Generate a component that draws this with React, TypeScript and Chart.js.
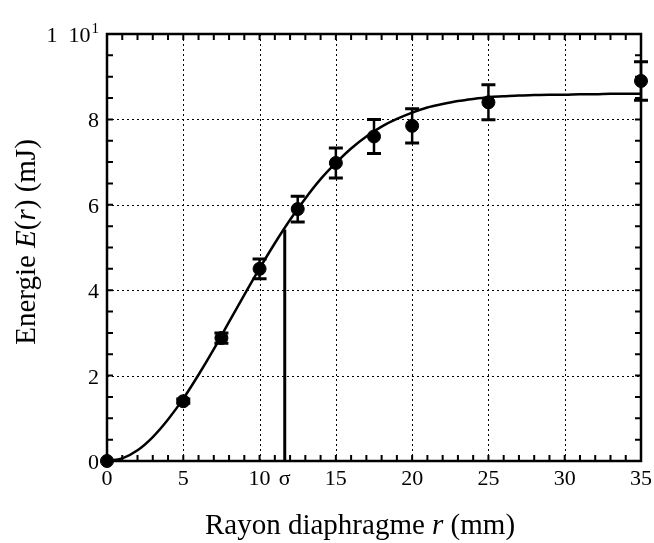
import React, { useEffect, useRef } from 'react';
import { Chart, registerables } from 'chart.js';

Chart.register(...registerables);

// Measured points (radius in mm, energy in mJ, error bar half-height)
const RADIUS = [0, 5, 7.5, 10, 12.5, 15, 17.5, 20, 25, 35];
const ENERGY = [0, 1.4, 2.88, 4.5, 5.9, 6.98, 7.6, 7.85, 8.4, 8.9];
const ERROR = [0, 0.05, 0.12, 0.23, 0.3, 0.35, 0.4, 0.4, 0.41, 0.45];

// Fitted curve
const FIT_R = [0, 1, 2, 3, 4, 5, 6, 7, 8, 9, 10, 11, 12, 13, 14, 15, 16, 17, 18, 19, 20, 21, 22, 23, 24, 25, 26, 27, 28, 29, 30, 31, 32, 33, 34, 35];
const FIT_E = [0, 0.06, 0.25, 0.56, 0.97, 1.46, 2.02, 2.62, 3.26, 3.89, 4.51, 5.1, 5.65, 6.15, 6.6, 6.98, 7.32, 7.6, 7.83, 8.01, 8.16, 8.28, 8.36, 8.43, 8.48, 8.52, 8.54, 8.56, 8.57, 8.58, 8.58, 8.59, 8.59, 8.6, 8.6, 8.6];

// Sigma marker
const SIGMA = 11.65;
const SIGMA_E = 5.42;
const SIGMA_LABEL = 'σ';

// Axes
const X_MIN = 0;
const X_MAX = 35;
const Y_MIN = 0;
const Y_MAX = 10;
const X_TICKS = [0, 5, 10, 15, 20, 25, 30, 35];
const Y_TICKS = [0, 2, 4, 6, 8, 10];
const Y_TICK_LABELS = ['0', '2', '4', '6', '8', '1  10'];
const Y_TICK_EXPONENTS = ['', '', '', '', '', '1'];
const X_MINOR_STEP = 1;
const Y_MINOR_STEP = 0.5;

const X_TITLE = [
  { t: 'Rayon diaphragme ', i: false },
  { t: 'r', i: true },
  { t: ' (mm)', i: false },
];
const Y_TITLE = [
  { t: 'Energie ', i: false },
  { t: 'E', i: true },
  { t: '(', i: false },
  { t: 'r', i: true },
  { t: ') (mJ)', i: false },
];

const SERIF = "'Liberation Serif', 'Times New Roman', serif";
const TITLE_SIZE = 29;
const TICK_SIZE = 22;
const EXP_SIZE = 15;

function drawRich(ctx: CanvasRenderingContext2D, parts: { t: string; i: boolean }[], cx: number, baseY: number) {
  const fontOf = (i: boolean) => `${i ? 'italic ' : ''}${TITLE_SIZE}px ${SERIF}`;
  let total = 0;
  parts.forEach((p) => {
    ctx.font = fontOf(p.i);
    total += ctx.measureText(p.t).width;
  });
  let x = cx - total / 2;
  ctx.textAlign = 'left';
  ctx.textBaseline = 'alphabetic';
  parts.forEach((p) => {
    ctx.font = fontOf(p.i);
    ctx.fillText(p.t, x, baseY);
    x += ctx.measureText(p.t).width;
  });
}

const decorPlugin = {
  id: 'decor',
  beforeDatasetsDraw(chart: any) {
    const { ctx, chartArea: a, scales } = chart;
    const xs = scales.x;
    const ys = scales.y;
    ctx.save();
    // dotted grid
    ctx.strokeStyle = '#000';
    ctx.lineWidth = 1;
    ctx.setLineDash([2, 3]);
    X_TICKS.forEach((v) => {
      if (v <= X_MIN || v >= X_MAX) return;
      const px = Math.round(xs.getPixelForValue(v)) + 0.5;
      ctx.beginPath();
      ctx.moveTo(px, a.top);
      ctx.lineTo(px, a.bottom);
      ctx.stroke();
    });
    Y_TICKS.forEach((v) => {
      if (v <= Y_MIN || v >= Y_MAX) return;
      const py = Math.round(ys.getPixelForValue(v)) + 0.5;
      ctx.beginPath();
      ctx.moveTo(a.left, py);
      ctx.lineTo(a.right, py);
      ctx.stroke();
    });
    ctx.setLineDash([]);
    // frame
    ctx.lineWidth = 2.5;
    ctx.strokeRect(a.left, a.top, a.right - a.left, a.bottom - a.top);
    // inward ticks on all four sides
    ctx.lineWidth = 2;
    const tl = 6;
    for (let v = X_MIN; v <= X_MAX + 1e-9; v += X_MINOR_STEP) {
      const px = xs.getPixelForValue(v);
      ctx.beginPath();
      ctx.moveTo(px, a.bottom);
      ctx.lineTo(px, a.bottom - tl);
      ctx.moveTo(px, a.top);
      ctx.lineTo(px, a.top + tl);
      ctx.stroke();
    }
    for (let v = Y_MIN; v <= Y_MAX + 1e-9; v += Y_MINOR_STEP) {
      const py = ys.getPixelForValue(v);
      ctx.beginPath();
      ctx.moveTo(a.left, py);
      ctx.lineTo(a.left + tl, py);
      ctx.moveTo(a.right, py);
      ctx.lineTo(a.right - tl, py);
      ctx.stroke();
    }
    ctx.restore();
  },
  afterDatasetsDraw(chart: any) {
    const { ctx, chartArea: a, scales } = chart;
    const xs = scales.x;
    const ys = scales.y;
    ctx.save();
    // error bars
    ctx.strokeStyle = '#000';
    RADIUS.forEach((r, i) => {
      const e = ERROR[i];
      if (!e) return;
      const px = xs.getPixelForValue(r);
      const top = ys.getPixelForValue(ENERGY[i] + e);
      const bot = ys.getPixelForValue(ENERGY[i] - e);
      ctx.lineWidth = 2.5;
      ctx.beginPath();
      ctx.moveTo(px, top);
      ctx.lineTo(px, bot);
      ctx.stroke();
      ctx.lineWidth = 3;
      ctx.beginPath();
      ctx.moveTo(px - 7, top);
      ctx.lineTo(px + 7, top);
      ctx.moveTo(px - 7, bot);
      ctx.lineTo(px + 7, bot);
      ctx.stroke();
    });
    // x tick labels
    ctx.fillStyle = '#000';
    ctx.font = `${TICK_SIZE}px ${SERIF}`;
    ctx.textAlign = 'center';
    ctx.textBaseline = 'alphabetic';
    X_TICKS.forEach((v) => {
      ctx.fillText(String(v), xs.getPixelForValue(v), a.bottom + 24);
    });
    ctx.fillText(SIGMA_LABEL, xs.getPixelForValue(SIGMA), a.bottom + 24);
    // y tick labels (with optional superscript exponent)
    ctx.textAlign = 'right';
    ctx.textBaseline = 'alphabetic';
    Y_TICKS.forEach((v, i) => {
      const py = ys.getPixelForValue(v);
      const base = py + 8;
      const exp = Y_TICK_EXPONENTS[i];
      let right = a.left - 8;
      if (exp) {
        ctx.font = `${EXP_SIZE}px ${SERIF}`;
        ctx.fillText(exp, right, base - 9);
        right -= ctx.measureText(exp).width + 1;
      }
      ctx.font = `${TICK_SIZE}px ${SERIF}`;
      ctx.fillText(Y_TICK_LABELS[i], right, base);
    });
    // titles
    drawRich(ctx, X_TITLE, 360, 534);
    ctx.save();
    ctx.translate(35, 242);
    ctx.rotate(-Math.PI / 2);
    drawRich(ctx, Y_TITLE, 0, 0);
    ctx.restore();
    ctx.restore();
  },
};

export default function App() {
  const ref = useRef<HTMLCanvasElement | null>(null);
  useEffect(() => {
    if (!ref.current) return;
    const chart = new Chart(ref.current, {
      type: 'scatter',
      data: {
        datasets: [
          {
            label: 'fit',
            data: FIT_R.map((r, i) => ({ x: r, y: FIT_E[i] })),
            showLine: true,
            borderColor: '#000',
            borderWidth: 2.5,
            pointRadius: 0,
            cubicInterpolationMode: 'monotone',
            clip: false,
          } as any,
          {
            label: 'sigma',
            data: [
              { x: SIGMA, y: 0 },
              { x: SIGMA, y: SIGMA_E },
            ],
            showLine: true,
            borderColor: '#000',
            borderWidth: 3,
            pointRadius: 0,
          } as any,
          {
            label: 'mesures',
            data: RADIUS.map((r, i) => ({ x: r, y: ENERGY[i] })),
            backgroundColor: '#000',
            borderColor: '#000',
            pointRadius: 6.5,
            pointHoverRadius: 6.5,
            clip: false,
          } as any,
        ],
      },
      options: {
        animation: false,
        responsive: true,
        maintainAspectRatio: false,
        events: [],
        layout: { padding: { top: 34, right: 13, left: 0, bottom: 0 } },
        plugins: { legend: { display: false }, tooltip: { enabled: false } },
        scales: {
          x: {
            type: 'linear',
            min: X_MIN,
            max: X_MAX,
            grid: { display: false },
            border: { display: false },
            ticks: { display: false },
            afterFit: (s: any) => {
              s.height = 82;
            },
          },
          y: {
            type: 'linear',
            min: Y_MIN,
            max: Y_MAX,
            grid: { display: false },
            border: { display: false },
            ticks: { display: false },
            afterFit: (s: any) => {
              s.width = 107;
            },
          },
        },
      },
      plugins: [decorPlugin],
    });
    return () => chart.destroy();
  }, []);
  return (
    <div style={{ position: 'absolute', left: 0, top: 0, width: 654, height: 543, background: '#fff' }}>
      <canvas ref={ref} />
    </div>
  );
}
